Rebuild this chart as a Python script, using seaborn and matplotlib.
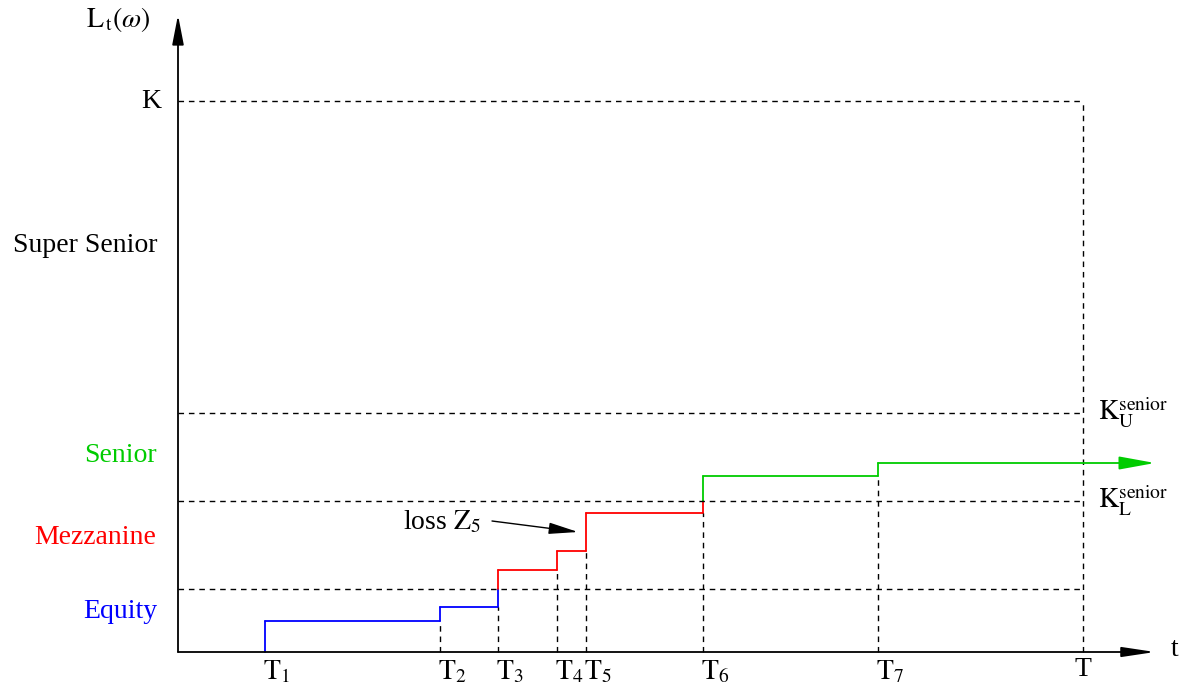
import numpy as np
import pandas as pd
import seaborn as sns
import matplotlib.pyplot as plt

# loss process L_t(w): default times and cumulative loss after each default
times = [87, 262, 320, 379, 408, 525, 700]
levels = [31, 45, 82, 101, 139, 176, 189]
time_labels = ["$\\mathrm{T}_1$", "$\\mathrm{T}_2$", "$\\mathrm{T}_3$", "$\\mathrm{T}_4$",
               "$\\mathrm{T}_5$", "$\\mathrm{T}_6$", "$\\mathrm{T}_7$"]
maturity = 905
t_end = 977

# tranche attachment points
equity_top = 63
k_lower = 151
k_upper = 239
k_total = 551

tranches = ["Equity", "Mezzanine", "Senior"]
tranche_colors = {"Equity": "#0000ff", "Mezzanine": "#ff0000", "Senior": "#00cc00"}
bounds = [0, equity_top, k_lower, np.inf]

sns.set_style("white")
plt.rcParams["font.family"] = ["Liberation Serif", "DejaVu Serif"]
plt.rcParams["mathtext.fontset"] = "stix"
plt.rcParams["text.color"] = "black"


def tranche_of(v):
    for i, name in enumerate(tranches):
        if bounds[i] <= v < bounds[i + 1]:
            return name
    return tranches[-1]


# build the step path, split where it crosses a tranche boundary
rows = []
seg = 0
prev = 0
for i, (t, lv) in enumerate(zip(times, levels)):
    cuts = [prev] + [b for b in bounds[1:-1] if prev < b < lv] + [lv]
    for a, b in zip(cuts[:-1], cuts[1:]):
        name = tranche_of((a + b) / 2)
        rows.append(dict(x=t, y=a, tranche=name, seg=seg))
        rows.append(dict(x=t, y=b, tranche=name, seg=seg))
        seg += 1
    if i + 1 < len(times):
        name = tranche_of(lv)
        rows.append(dict(x=t, y=lv, tranche=name, seg=seg))
        rows.append(dict(x=times[i + 1], y=lv, tranche=name, seg=seg))
        seg += 1
    prev = lv
df = pd.DataFrame(rows)

fig = plt.figure(figsize=(11.9, 6.84), dpi=100)
ax = fig.add_axes([0, 0, 1, 1])

sns.lineplot(data=df, x="x", y="y", hue="tranche", units="seg", estimator=None,
             sort=False, palette=tranche_colors, linewidth=1.3, legend=False, ax=ax)

# last green segment with arrow head
ax.annotate("", xy=(t_end, levels[-1]), xytext=(times[-1], levels[-1]),
            arrowprops=dict(arrowstyle="-|>,head_length=2.2,head_width=0.4",
                            color=tranche_colors["Senior"], lw=1.3, shrinkA=0, shrinkB=0))

dash = dict(color="black", lw=1.0, linestyle=(0, (4, 3.5)))
for lv in [equity_top, k_lower, k_upper, k_total]:
    ax.plot([0, maturity], [lv, lv], **dash)
prev_levels = [0] + levels[:-1]
for t, pl in zip(times[1:], prev_levels[1:]):
    ax.plot([t, t], [0, pl], **dash)
ax.plot([maturity, maturity], [0, k_total], **dash)

# axes with arrows
ax.annotate("", xy=(0, 637), xytext=(0, 0),
            arrowprops=dict(arrowstyle="-|>,head_length=1.8,head_width=0.35",
                            color="black", lw=1.3, shrinkA=0, shrinkB=0))
ax.annotate("", xy=(977, 0), xytext=(0, 0),
            arrowprops=dict(arrowstyle="-|>,head_length=2.0,head_width=0.3",
                            color="black", lw=1.3, shrinkA=0, shrinkB=0))

fs = 20
ax.text(-60, 632, "$\\mathrm{L}_{\\,\\mathrm{t}}(\\omega)$", fontsize=fs, ha="center", va="center")
ax.text(997, 3, "t", fontsize=fs, ha="center", va="center")
ax.text(-17, 551, "K", fontsize=fs, ha="right", va="center")
ax.text(-93, 407, "Super Senior", fontsize=fs, ha="center", va="center")
ax.text(-58, 196, "Senior", fontsize=fs, ha="center", va="center",
        color=tranche_colors["Senior"])
ax.text(-83, 115, "Mezzanine", fontsize=fs, ha="center", va="center",
        color=tranche_colors["Mezzanine"])
ax.text(-58, 40, "Equity", fontsize=fs, ha="center", va="center",
        color=tranche_colors["Equity"])

for t, lab in zip(times, time_labels):
    ax.text(t - 2, -20, lab, fontsize=fs, ha="left", va="center")
ax.text(maturity, -18, "T", fontsize=fs, ha="center", va="center")

ax.text(920, 239, "$\\mathrm{K}_{\\mathrm{U}}^{\\mathrm{senior}}$", fontsize=fs,
        ha="left", va="center")
ax.text(920, 151, "$\\mathrm{K}_{\\mathrm{L}}^{\\mathrm{senior}}$", fontsize=fs,
        ha="left", va="center")

ax.text(225, 130, "loss $\\mathrm{Z}_5$", fontsize=fs, ha="left", va="center")
ax.annotate("", xy=(400, 120), xytext=(314, 131),
            arrowprops=dict(arrowstyle="-|>,head_length=1.8,head_width=0.35",
                            color="black", lw=1.0, shrinkA=0, shrinkB=0))

ax.set_xlim(-178, 1012)
ax.set_ylim(-32, 652)
ax.axis("off")

fig.savefig("out.png", dpi=100)
